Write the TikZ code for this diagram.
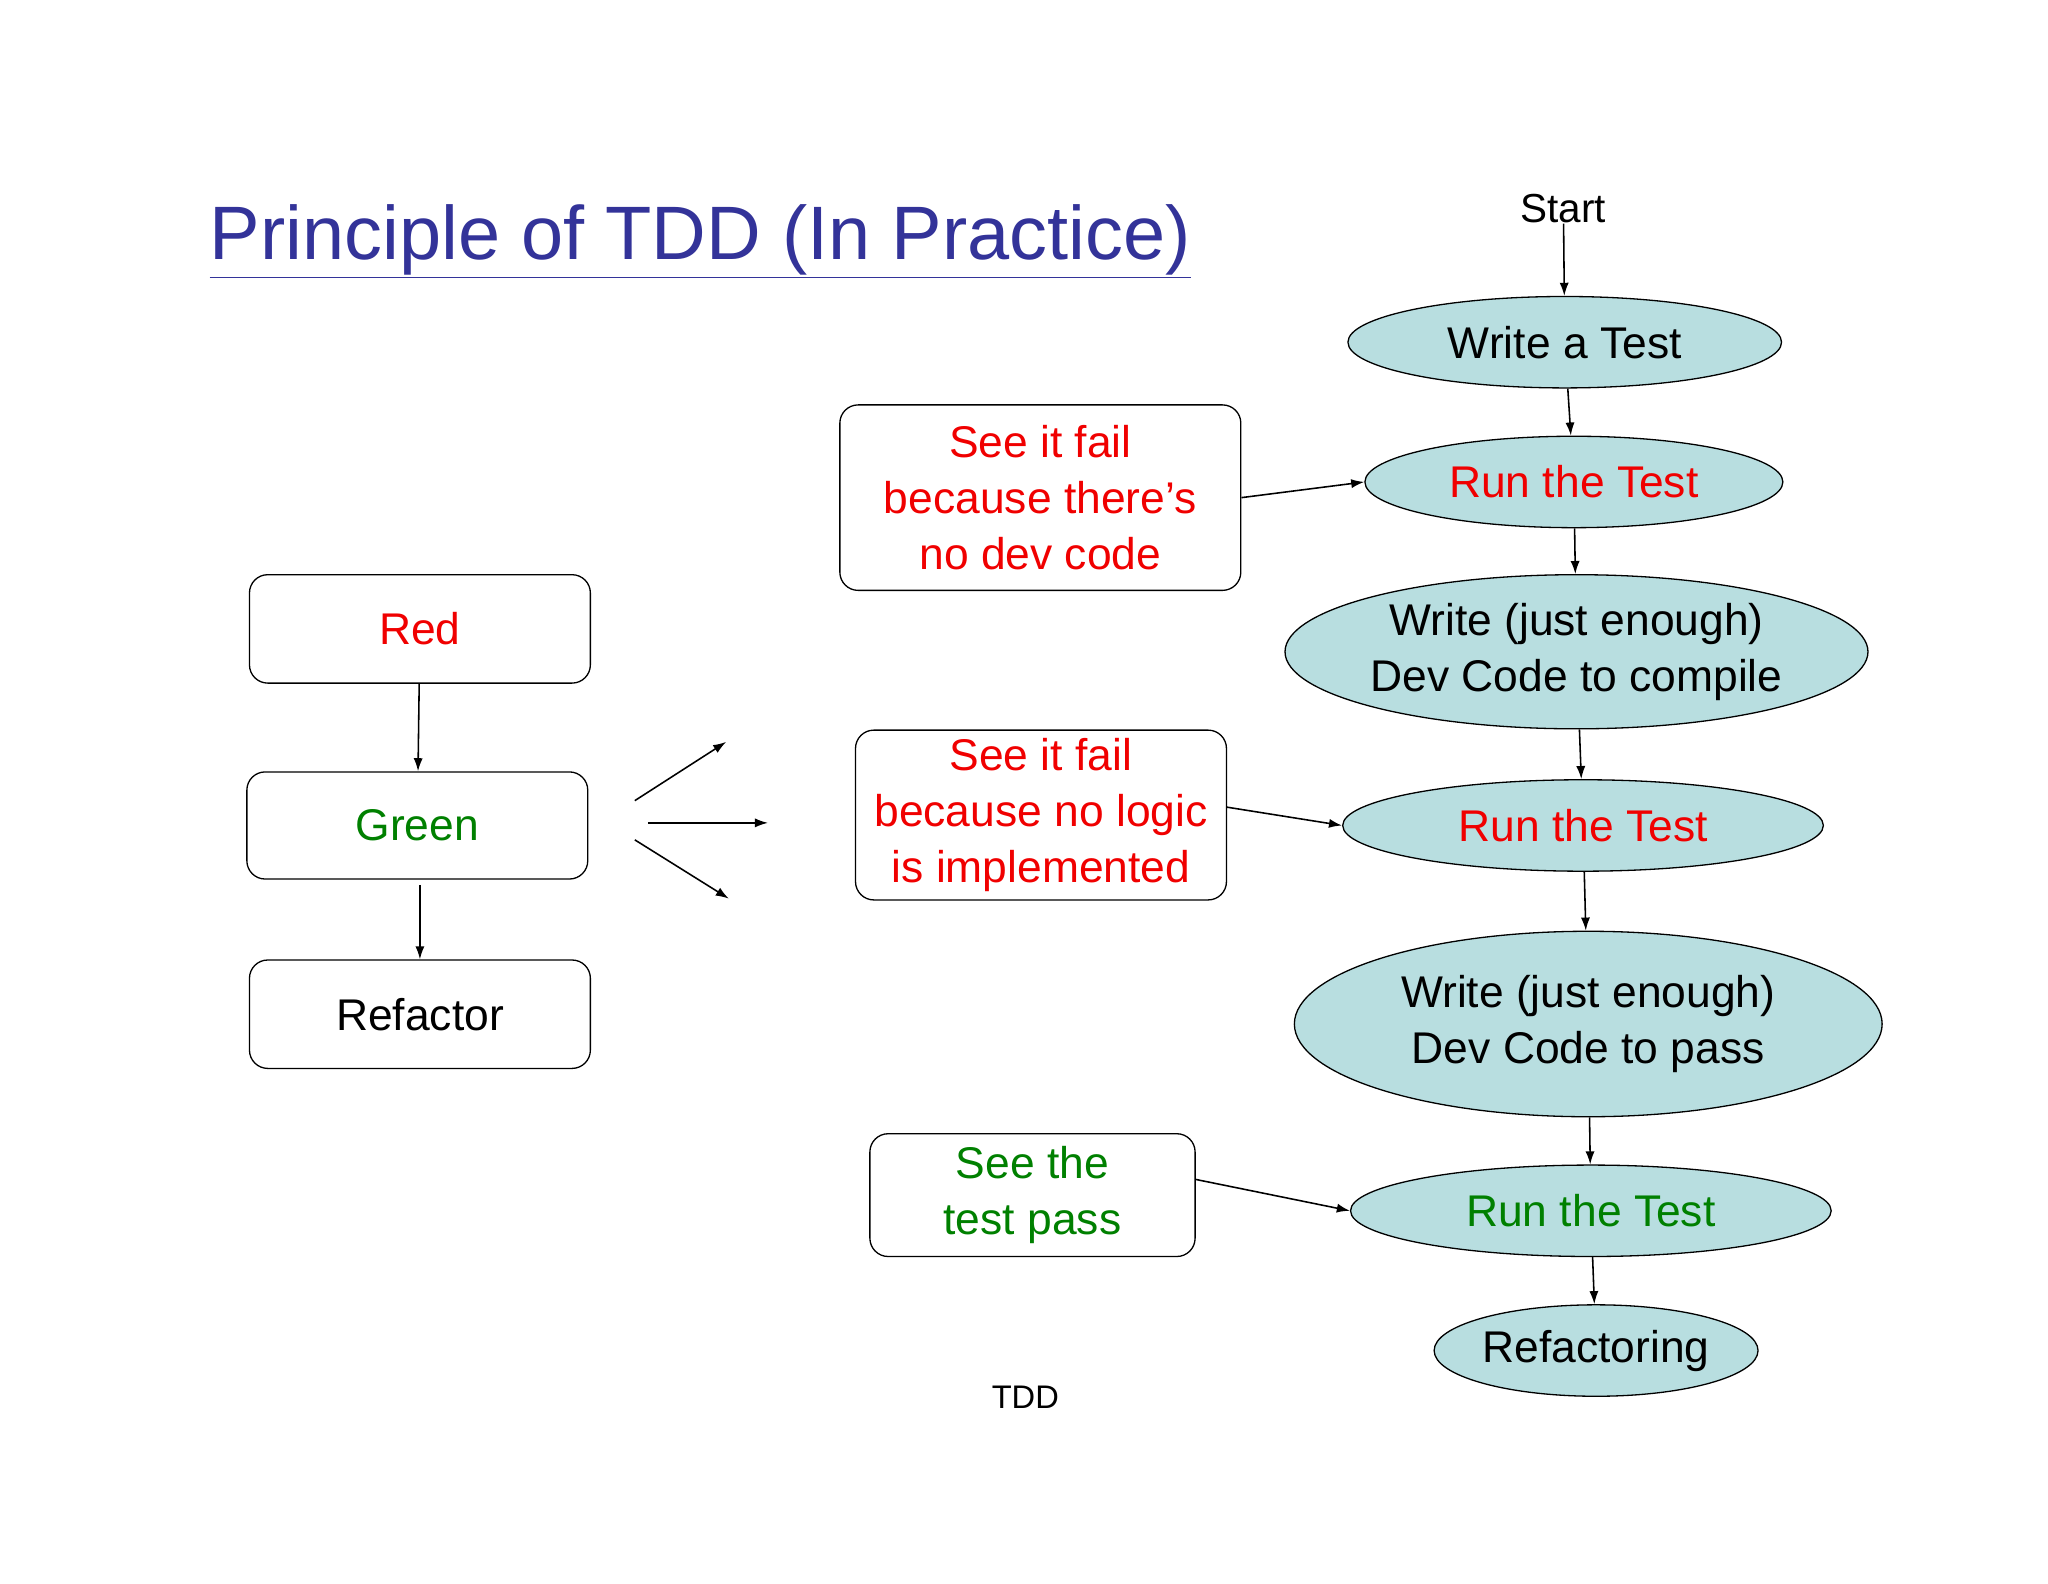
\documentclass[tikz,border=0pt]{standalone}
\usepackage{fontspec}
\setmainfont{Liberation Sans}
\usetikzlibrary{shapes.geometric,arrows.meta}
\definecolor{ell}{RGB}{184,222,224}
\definecolor{ttl}{RGB}{51,51,153}
\definecolor{rd}{RGB}{240,0,0}
\definecolor{gr}{RGB}{0,128,0}
\begin{document}
\begin{tikzpicture}[x=1pt,y=-1pt,
 txt/.style={font=\fontsize{34}{43}\selectfont,align=center,inner sep=0},
 el/.style={ellipse,draw,fill=ell,line width=1pt,txt},
 bx/.style={draw,rounded corners=14pt,line width=1pt,txt},
 ar/.style={-{Latex[length=10pt,width=7pt]},line width=1.2pt}]
\useasboundingbox (0,0) rectangle (1568,1212);
\node[text=ttl,font=\fontsize{58}{60}\selectfont,anchor=west] (title) at (157,185) {\underline{Principle of TDD (In Practice)}};
\node[txt,font=\fontsize{31}{36}\selectfont] (start) at (1197,160) {Start};
\node[el,minimum width=332,minimum height=70] (w1) at (1198,262) {Write a Test};
\node[el,minimum width=320,minimum height=70,text=rd] (r1) at (1205,369) {Run the Test};
\node[el,minimum width=436,minimum height=118] (w2) at (1207,499) {Write (just enough)\\Dev Code to compile};
\node[el,minimum width=368,minimum height=70,text=rd] (r2) at (1212,632) {Run the Test};
\node[el,minimum width=450,minimum height=142] (w3) at (1216,784) {Write (just enough)\\Dev Code to pass};
\node[el,minimum width=368,minimum height=70,text=gr] (r3) at (1218,927) {Run the Test};
\node[el,minimum width=248,minimum height=70] (rf) at (1222,1034) {Refactoring};
\draw[ar] (start) -- (w1);
\draw[ar] (w1) -- (r1);
\draw[ar] (r1) -- (w2);
\draw[ar] (w2) -- (r2);
\draw[ar] (r2) -- (w3);
\draw[ar] (w3) -- (r3);
\draw[ar] (r3) -- (rf);
\node[bx,minimum width=307,minimum height=142,text=rd] (b1) at (796.5,381) {See it fail\\because there’s\\no dev code};
\node[bx,minimum width=284,minimum height=130,text=rd] (b2) at (797,624) {See it fail\\because no logic\\is implemented};
\node[bx,minimum width=249,minimum height=94,text=gr] (b3) at (790.5,915) {See the\\test pass};
\draw[ar] (b1.east) -- (r1.west);
\draw[ar] (b2.east) ++(0,-6) -- (r2.west);
\draw[ar] (b3.east) ++(0,-12) -- (r3.west);
\node[bx,minimum width=261,minimum height=83,text=rd] (red) at (321.5,481.5) {Red};
\node[bx,minimum width=261,minimum height=82,text=gr] (green) at (319.5,632) {Green};
\node[bx,minimum width=261,minimum height=83] (ref) at (321.5,776.5) {Refactor};
\draw[ar] (red) -- (green);
\draw[ar] (green.south) ++(2,4) -- (ref.north);
\coordinate (a1s) at (486,613); \coordinate (a1e) at (556,568);
\coordinate (a2s) at (496,630); \coordinate (a2e) at (588,630);
\coordinate (a3s) at (486,643); \coordinate (a3e) at (558,688);
\draw[ar] (a1s) -- (a1e);
\draw[ar] (a2s) -- (a2e);
\draw[ar] (a3s) -- (a3e);
\node[txt,font=\fontsize{25}{30}\selectfont] (tdd) at (785,1070) {TDD};
\end{tikzpicture}
\end{document}
